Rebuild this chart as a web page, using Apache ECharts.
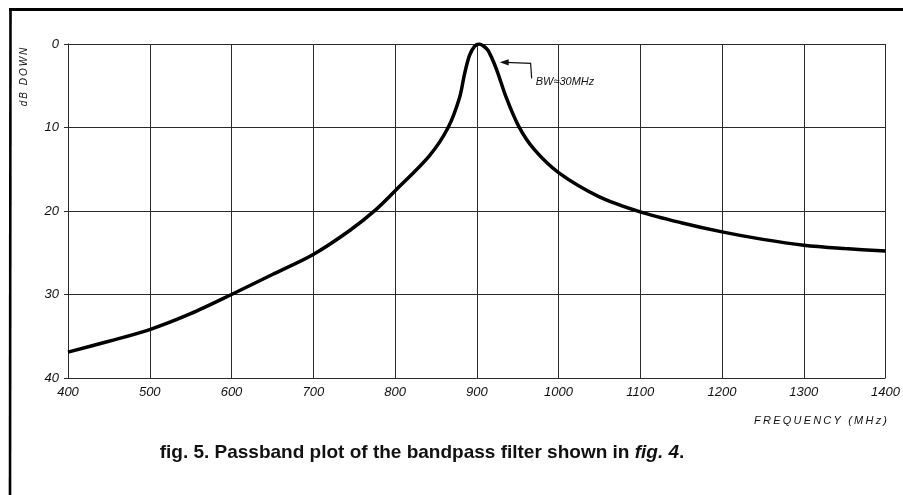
<!DOCTYPE html>
<html>
<head>
<meta charset="utf-8">
<script src="https://cdn.jsdelivr.net/npm/echarts@6/dist/echarts.min.js"></script>
<style>
  html, body { margin: 0; padding: 0; background: #fff; }
  #chart { width: 903px; height: 495px; }
</style>
</head>
<body>
<div id="chart"></div>
<script>
// Passband response of the bandpass filter: attenuation (dB down) vs frequency (MHz)
const frequencyMHz = [400, 450, 500, 550, 600, 650, 700, 745, 777, 800, 842, 865, 879, 885, 891, 897, 903, 909, 914, 924, 936, 951, 970, 1000, 1050, 1100, 1150, 1200, 1250, 1300, 1350, 1400];
const dbDown       = [36.9, 35.6, 34.2, 32.3, 30.0, 27.6, 25.2, 22.3, 19.8, 17.6, 13.4, 10.0, 6.4, 3.6, 1.4, 0.3, 0.0, 0.3, 0.8, 3.0, 6.4, 9.8, 12.6, 15.4, 18.3, 20.1, 21.4, 22.5, 23.4, 24.1, 24.5, 24.8];

const xTicks = [400, 500, 600, 700, 800, 900, 1000, 1100, 1200, 1300, 1400];
const yTicks = [0, 10, 20, 30, 40];

const bandwidthNote = { freq: 928, db: 2.2, text: 'BW\u224830MHz' };
const xTitle = 'FREQUENCY (MHz)';
const yTitle = 'dB DOWN';
const captionParts = ['fig. 5. Passband plot of the bandpass filter shown in ', 'fig. 4', '.'];

const spaced = s => s.split('').join('\u2009');
const ink = '#111';
const gridInk = '#2a2a2a';
const tickFont = { fontFamily: 'Liberation Sans', fontStyle: 'italic', fontSize: 13, color: ink };

const chart = echarts.init(document.getElementById('chart'), null, { renderer: 'canvas' });

chart.setOption({
  backgroundColor: '#fff',
  animation: false,
  grid: { left: 68, right: 16, top: 44, bottom: 117 },
  xAxis: {
    type: 'value',
    min: xTicks[0],
    max: xTicks[xTicks.length - 1],
    interval: 100,
    axisLine: { show: true, lineStyle: { color: gridInk, width: 1 } },
    axisTick: { show: true, length: 4, lineStyle: { color: gridInk } },
    splitLine: { show: true, lineStyle: { color: gridInk, width: 1 } },
    axisLabel: Object.assign({ margin: 8, formatter: v => String(v) }, tickFont)
  },
  yAxis: {
    type: 'value',
    inverse: true,
    min: yTicks[0],
    max: yTicks[yTicks.length - 1],
    interval: 10,
    axisLine: { show: true, lineStyle: { color: gridInk, width: 1 } },
    axisTick: { show: true, length: 4, lineStyle: { color: gridInk } },
    splitLine: { show: true, lineStyle: { color: gridInk, width: 1 } },
    axisLabel: Object.assign({ margin: 9, formatter: v => String(v) }, tickFont)
  },
  series: [{
    type: 'line',
    data: frequencyMHz.map((f, i) => [f, dbDown[i]]),
    smooth: 0.3,
    showSymbol: false,
    lineStyle: { color: '#000', width: 3.5 },
    z: 5
  }]
});

// Annotation arrow anchored to the data coordinates near the peak
const tip = chart.convertToPixel({ gridIndex: 0 }, [bandwidthNote.freq, bandwidthNote.db]);
const elbowX = tip[0] + 31;
const elbowY = tip[1] + 1;

chart.setOption({
  graphic: [
    // page frame
    { type: 'line', shape: { x1: 9, y1: 9.5, x2: 903, y2: 9.5 }, style: { stroke: '#000', lineWidth: 3 } },
    { type: 'line', shape: { x1: 10.5, y1: 8, x2: 10, y2: 495 }, style: { stroke: '#000', lineWidth: 2.6 } },
    // axis titles
    {
      type: 'text', x: 24, y: 77, rotation: Math.PI / 2,
      style: { text: spaced(yTitle), font: 'italic 10px "Liberation Sans"', fill: ink, align: 'center', verticalAlign: 'middle' }
    },
    {
      type: 'text', x: 887, y: 421,
      style: { text: spaced(xTitle), font: 'italic 11px "Liberation Sans"', fill: ink, align: 'right', verticalAlign: 'middle' }
    },
    // bandwidth note
    {
      type: 'polyline',
      shape: { points: [[tip[0] + 6, tip[1]], [elbowX, elbowY], [elbowX + 1, elbowY + 15]] },
      style: { stroke: ink, lineWidth: 1.2, fill: null }
    },
    {
      type: 'polygon',
      shape: { points: [[tip[0], tip[1]], [tip[0] + 9, tip[1] - 3.2], [tip[0] + 9, tip[1] + 3.2]] },
      style: { fill: ink }
    },
    {
      type: 'text', x: elbowX + 5, y: elbowY + 19,
      style: { text: bandwidthNote.text, font: 'italic 11px "Liberation Sans"', fill: ink, align: 'left', verticalAlign: 'middle' }
    },
    // caption
    {
      type: 'text', x: 422, y: 453,
      style: {
        text: '{a|' + captionParts[0] + '}{b|' + captionParts[1] + '}{a|' + captionParts[2] + '}',
        align: 'center', verticalAlign: 'middle',
        rich: {
          a: { fontFamily: 'Liberation Sans', fontWeight: 'bold', fontSize: 19, fill: '#111' },
          b: { fontFamily: 'Liberation Sans', fontWeight: 'bold', fontStyle: 'italic', fontSize: 19, fill: '#111' }
        }
      }
    }
  ]
});
</script>
</body>
</html>
